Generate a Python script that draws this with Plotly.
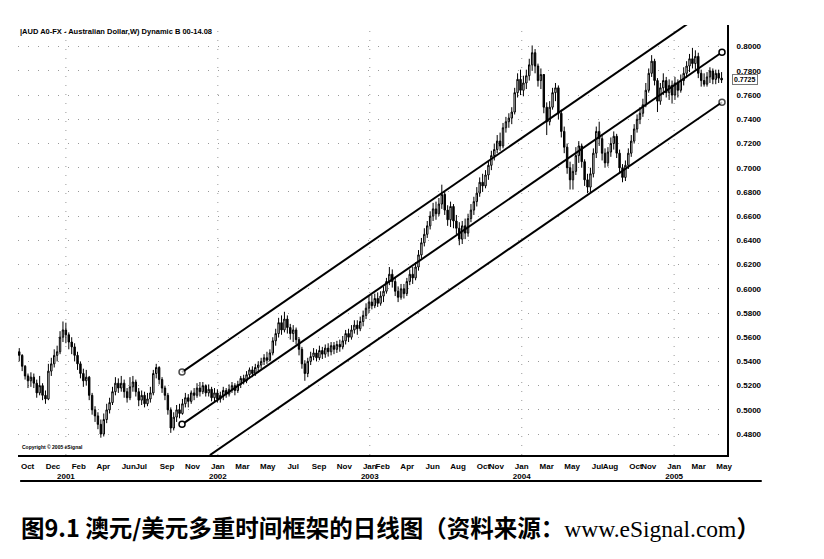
import pandas as pd
import plotly.graph_objects as go

# ---------------- data (weekly bars) ----------------
start_date = "2000-09-11"
first_open = 0.548

close = [0.545,0.536,0.528,0.524,0.527,0.522,0.514,0.520,0.512,0.509,
         0.532,0.538,0.545,0.548,0.560,0.566,0.562,0.556,0.552,0.545,
         0.538,0.530,0.524,0.527,0.512,0.500,0.495,0.488,0.480,0.492,
         0.500,0.506,0.515,0.522,0.518,0.522,0.515,0.510,0.519,0.523,
         0.515,0.508,0.512,0.505,0.509,0.514,0.530,0.535,0.525,0.518,
         0.512,0.500,0.485,0.494,0.500,0.497,0.505,0.510,0.507,0.514,
         0.512,0.518,0.515,0.520,0.514,0.517,0.510,0.514,0.509,0.512,
         0.516,0.513,0.517,0.520,0.516,0.521,0.526,0.524,0.529,0.533,
         0.530,0.535,0.537,0.540,0.543,0.541,0.547,0.557,0.563,0.572,
         0.566,0.575,0.568,0.563,0.566,0.558,0.550,0.538,0.530,0.540,
         0.544,0.547,0.543,0.549,0.546,0.551,0.548,0.553,0.550,0.554,
         0.552,0.557,0.563,0.560,0.566,0.570,0.567,0.573,0.578,0.584,
         0.589,0.586,0.592,0.588,0.594,0.598,0.606,0.612,0.606,0.598,
         0.593,0.600,0.596,0.606,0.612,0.609,0.618,0.628,0.638,0.645,
         0.652,0.660,0.666,0.662,0.670,0.678,0.665,0.657,0.668,0.656,
         0.650,0.641,0.652,0.646,0.658,0.665,0.672,0.679,0.688,0.685,
         0.694,0.702,0.710,0.715,0.722,0.718,0.733,0.738,0.741,0.746,
         0.762,0.773,0.764,0.770,0.776,0.785,0.795,0.784,0.772,0.777,
         0.750,0.738,0.750,0.762,0.766,0.745,0.730,0.717,0.700,0.690,
         0.697,0.710,0.718,0.705,0.690,0.684,0.695,0.712,0.730,0.724,
         0.712,0.704,0.713,0.720,0.726,0.712,0.700,0.692,0.702,0.712,
         0.722,0.732,0.740,0.745,0.752,0.764,0.778,0.788,0.772,0.755,
         0.766,0.772,0.762,0.768,0.760,0.770,0.764,0.772,0.778,0.784,
         0.790,0.786,0.792,0.778,0.772,0.769,0.775,0.780,0.773,0.778,
         0.774,0.7725]

high = [0.551,0.546,0.537,0.530,0.531,0.530,0.525,0.528,0.522,0.516,
        0.538,0.543,0.550,0.553,0.565,0.573,0.572,0.564,0.560,0.555,
        0.548,0.540,0.534,0.533,0.528,0.514,0.503,0.498,0.492,0.497,
        0.505,0.510,0.519,0.527,0.526,0.528,0.525,0.518,0.527,0.528,
        0.525,0.518,0.516,0.515,0.514,0.519,0.533,0.538,0.536,0.527,
        0.520,0.514,0.502,0.498,0.504,0.505,0.509,0.514,0.513,0.516,
        0.518,0.522,0.523,0.523,0.521,0.521,0.519,0.518,0.517,0.515,
        0.519,0.518,0.521,0.523,0.522,0.524,0.528,0.529,0.532,0.535,
        0.536,0.538,0.540,0.543,0.546,0.548,0.550,0.560,0.567,0.576,
        0.578,0.581,0.578,0.571,0.570,0.568,0.560,0.552,0.541,0.543,
        0.548,0.551,0.550,0.553,0.552,0.554,0.555,0.556,0.556,0.557,
        0.558,0.561,0.566,0.567,0.570,0.574,0.574,0.577,0.582,0.588,
        0.594,0.595,0.596,0.597,0.598,0.602,0.609,0.618,0.616,0.609,
        0.602,0.604,0.604,0.609,0.616,0.618,0.622,0.632,0.642,0.650,
        0.656,0.664,0.671,0.672,0.675,0.686,0.680,0.669,0.672,0.670,
        0.661,0.655,0.656,0.658,0.662,0.670,0.676,0.684,0.692,0.695,
        0.698,0.706,0.714,0.720,0.727,0.729,0.737,0.742,0.745,0.750,
        0.766,0.778,0.781,0.776,0.781,0.790,0.801,0.798,0.786,0.782,
        0.776,0.754,0.755,0.766,0.770,0.768,0.748,0.734,0.720,0.705,
        0.703,0.717,0.722,0.720,0.707,0.695,0.700,0.716,0.734,0.738,
        0.727,0.716,0.717,0.725,0.730,0.728,0.715,0.703,0.706,0.716,
        0.727,0.736,0.744,0.750,0.757,0.770,0.782,0.793,0.790,0.774,
        0.770,0.778,0.775,0.773,0.772,0.775,0.773,0.777,0.783,0.788,
        0.794,0.799,0.797,0.795,0.781,0.778,0.779,0.783,0.782,0.781,
        0.781,0.779]

low = [0.540,0.532,0.525,0.518,0.519,0.518,0.510,0.512,0.508,0.505,
       0.508,0.528,0.535,0.540,0.546,0.556,0.555,0.550,0.546,0.540,
       0.533,0.526,0.519,0.520,0.508,0.496,0.490,0.484,0.477,0.478,
       0.489,0.497,0.504,0.512,0.514,0.515,0.510,0.506,0.508,0.515,
       0.511,0.503,0.504,0.502,0.503,0.506,0.512,0.526,0.521,0.514,
       0.508,0.496,0.481,0.483,0.490,0.493,0.496,0.502,0.502,0.505,
       0.508,0.510,0.511,0.513,0.511,0.511,0.507,0.506,0.506,0.506,
       0.508,0.510,0.511,0.514,0.512,0.514,0.518,0.521,0.522,0.526,
       0.527,0.528,0.531,0.534,0.537,0.538,0.540,0.545,0.553,0.560,
       0.562,0.564,0.563,0.558,0.556,0.554,0.545,0.534,0.524,0.527,
       0.537,0.541,0.540,0.541,0.542,0.543,0.544,0.545,0.546,0.547,
       0.548,0.550,0.554,0.556,0.558,0.563,0.562,0.565,0.569,0.575,
       0.580,0.583,0.584,0.585,0.586,0.589,0.596,0.603,0.601,0.594,
       0.589,0.591,0.592,0.594,0.603,0.604,0.607,0.615,0.625,0.635,
       0.642,0.649,0.656,0.657,0.660,0.666,0.661,0.652,0.651,0.650,
       0.645,0.636,0.637,0.641,0.643,0.655,0.661,0.668,0.676,0.680,
       0.683,0.690,0.698,0.706,0.712,0.714,0.716,0.729,0.733,0.736,
       0.744,0.758,0.760,0.759,0.765,0.772,0.780,0.778,0.767,0.765,
       0.745,0.727,0.735,0.748,0.755,0.740,0.725,0.712,0.695,0.682,
       0.682,0.694,0.704,0.700,0.685,0.679,0.680,0.692,0.708,0.718,
       0.706,0.700,0.701,0.709,0.715,0.708,0.695,0.688,0.689,0.699,
       0.709,0.720,0.729,0.736,0.742,0.750,0.762,0.775,0.768,0.746,
       0.752,0.760,0.758,0.756,0.753,0.756,0.758,0.762,0.768,0.774,
       0.779,0.782,0.781,0.774,0.767,0.767,0.767,0.770,0.769,0.769,
       0.770,0.770]

# regression channel lines (date, price)
upper_dates = ["2001-10-07", "2005-02-02"]
upper_vals = [0.5312, 0.8188]
mid_dates = ["2001-10-07", "2005-04-26"]
mid_vals = [0.4880, 0.7954]
lower_dates = ["2001-12-13", "2005-04-26"]
lower_vals = [0.4626, 0.7541]

y_ticks = [0.48, 0.50, 0.52, 0.54, 0.56, 0.58, 0.60, 0.62, 0.64, 0.66,
           0.68, 0.70, 0.72, 0.74, 0.76, 0.78, 0.80]

month_tick_dates = ["2000-10-01", "2000-12-01", "2001-01-01", "2001-02-01", "2001-04-01",
                    "2001-06-01", "2001-07-01", "2001-09-01", "2001-11-01",
                    "2002-01-01", "2002-03-01", "2002-05-01", "2002-07-01",
                    "2002-09-01", "2002-11-01", "2003-01-01", "2003-02-01",
                    "2003-04-01", "2003-06-01", "2003-08-01", "2003-10-01",
                    "2003-11-01", "2004-01-01", "2004-03-01", "2004-05-01",
                    "2004-07-01", "2004-08-01", "2004-10-01", "2004-11-01",
                    "2005-01-01", "2005-03-01", "2005-05-01"]
month_tick_text = ["Oct", "Dec", " <br>2001", "Feb", "Apr", "Jun", "Jul", "Sep", "Nov",
                   "Jan<br>2002", "Mar", "May", "Jul", "Sep", "Nov", "Jan<br>2003",
                   "Feb", "Apr", "Jun", "Aug", "Oct", "Nov", "Jan<br>2004", "Mar",
                   "May", "Jul", "Aug", "Oct", "Nov", "Jan<br>2005", "Mar", "May"]
year_grid_dates = ["2001-01-01", "2002-01-01", "2003-01-01", "2004-01-01", "2005-01-01"]

title_text = "|AUD A0-FX - Australian Dollar,W) Dynamic B 00-14.08"
caption = ("图9.1 澳元/美元多重时间框架的日线图（资料来源："
           "<span style='font-family:Liberation Serif;font-weight:normal'>www.eSignal.com</span>）")

# ---------------- figure ----------------
dates = pd.date_range(start_date, periods=len(close), freq="7D")
opens = [first_open] + close[:-1]

fig = go.Figure()
fig.add_trace(go.Candlestick(
    x=dates, open=opens, high=high, low=low, close=close,
    increasing=dict(line=dict(color="black", width=1), fillcolor="white"),
    decreasing=dict(line=dict(color="black", width=1), fillcolor="black"),
    whiskerwidth=0, showlegend=False, hoverinfo="skip"))

line_style = dict(color="black", width=2)
fig.add_trace(go.Scatter(x=upper_dates, y=upper_vals, mode="lines+markers",
                         line=line_style, cliponaxis=True,
                         marker=dict(size=[6, 0], color="white",
                                     line=dict(color="black", width=1.5)),
                         showlegend=False))
fig.add_trace(go.Scatter(x=mid_dates, y=mid_vals, mode="lines+markers",
                         line=line_style, cliponaxis=False,
                         marker=dict(size=6, color="white",
                                     line=dict(color="black", width=1.5)),
                         showlegend=False))
fig.add_trace(go.Scatter(x=lower_dates, y=lower_vals, mode="lines+markers",
                         line=line_style, cliponaxis=True,
                         marker=dict(size=[0, 6], color="white",
                                     line=dict(color="black", width=1.5)),
                         showlegend=False))

tick_font = dict(family="Liberation Sans", size=8, color="black", weight="bold")

fig.update_xaxes(
    type="date", range=["2000-09-08", "2005-05-08"],
    rangeslider=dict(visible=False), automargin=False,
    tickmode="array", tickvals=month_tick_dates, ticktext=month_tick_text,
    tickangle=0, tickfont=tick_font, ticks="", ticklabelstandoff=2,
    showline=True, linecolor="black", linewidth=2,
    showgrid=False, zeroline=False)
fig.update_yaxes(
    side="right", range=[0.4627, 0.8179], automargin=False,
    tickmode="array", tickvals=y_ticks,
    tickformat=".4f", tickfont=tick_font, ticks="", ticklabelstandoff=6,
    showline=True, linecolor="black", linewidth=2, mirror=False,
    showgrid=True, gridcolor="#9a9a9a", gridwidth=1, griddash="1px,9px",
    zeroline=False)

shapes = [dict(type="line", xref="paper", yref="paper",
               x0=0.003, x1=1.049, y0=-0.0605, y1=-0.0605,
               line=dict(color="black", width=2))]
for d in year_grid_dates:
    shapes.append(dict(type="line", xref="x", yref="paper", x0=d, x1=d, y0=0, y1=1,
                       line=dict(color="#9a9a9a", width=1, dash="1px,8px"), layer="below"))

# page body adds an 8px offset, so the figure is sized/margined to compensate
fig.update_layout(
    width=808, height=543,
    margin=dict(l=10, r=89, t=17, b=96),
    paper_bgcolor="white", plot_bgcolor="white",
    shapes=shapes,
    annotations=[
        dict(text=title_text, xref="paper", yref="paper", x=0.0, y=0.986,
             xanchor="left", yanchor="middle", showarrow=False,
             font=dict(family="Liberation Sans", size=7.5, color="black", weight="bold")),
        dict(text="Copyright © 2005 eSignal", xref="paper", yref="paper",
             x=0.003, y=0.019, xanchor="left", yanchor="middle", showarrow=False,
             font=dict(family="Liberation Sans", size=5, color="black", weight="bold")),
        dict(text=f"{close[-1]:.4f}", xref="paper", yref="y", x=1.0, y=close[-1],
             xanchor="left", yanchor="middle", xshift=5, showarrow=False,
             bordercolor="#777", borderwidth=1, borderpad=1,
             font=dict(family="Liberation Sans", size=7, color="black", weight="bold")),
        dict(text=caption, xref="paper", yref="paper", x=0.002, y=-0.1674,
             xanchor="left", yanchor="middle", showarrow=False,
             font=dict(family="Noto Sans CJK SC", size=23.5, color="black", weight="bold")),
    ])

fig.write_html("out.html")
